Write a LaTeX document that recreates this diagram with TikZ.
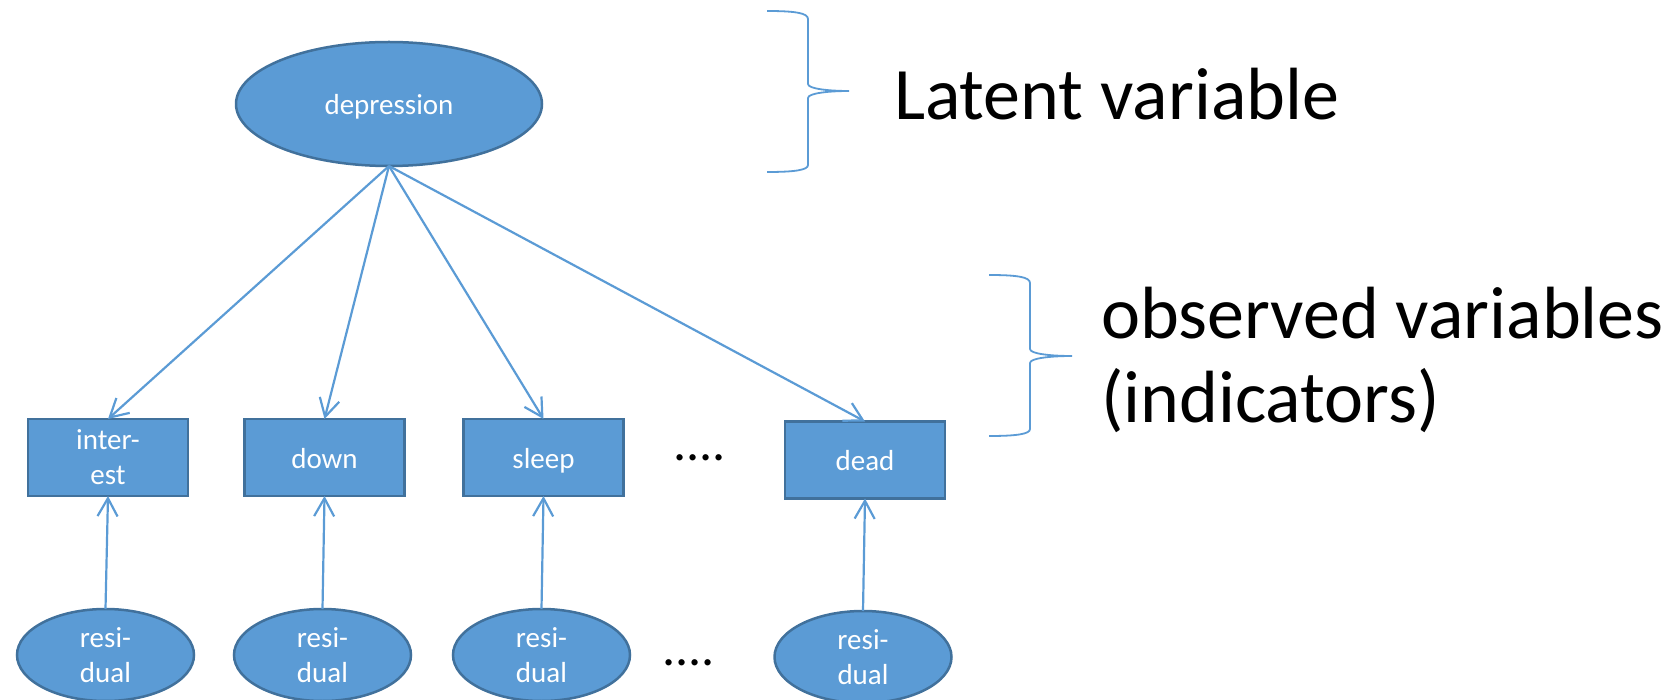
\documentclass[tikz,border=0pt]{standalone}
\usepackage{fontspec}
\setmainfont{Carlito}
\usetikzlibrary{arrows.meta,shapes.geometric}
\definecolor{nodefill}{HTML}{5B9BD5}
\definecolor{nodeline}{HTML}{41719C}
\definecolor{linkblue}{HTML}{5B9BD5}

\begin{document}
\begin{tikzpicture}[x=1pt,y=-1pt,
  every node/.style={inner sep=0pt, outer sep=0pt},
  small/.style={font=\fontsize{29}{35}\selectfont, text=white, align=center},
  oneline/.style={text height=22pt, text depth=1pt},
  latentnode/.style={ellipse, small, fill=nodefill, draw=nodeline, line width=2.5pt,
    minimum width=306pt, minimum height=124pt},
  obsnode/.style={rectangle, small, fill=nodefill, draw=nodeline, line width=2.5pt,
    minimum width=160pt, minimum height=77pt},
  resnode/.style={ellipse, small, fill=nodefill, draw=nodeline, line width=2.5pt,
    minimum width=177pt, minimum height=92pt},
  link/.style={draw=linkblue, line width=2.2pt, -{Straight Barb[length=18pt,width=20pt]}},
  bracepath/.style={draw=linkblue, line width=1.8pt},
  bigtext/.style={font=\fontsize{74}{85}\selectfont, align=left},
  dotstext/.style={font=\fontsize{52}{60}\selectfont}
]
\useasboundingbox (0,0) rectangle (1676,700);

% latent factor
\node[latentnode, oneline] (dep) at (389,104) {depression};

% indicators
\node[obsnode] (interest) at (108,457.5) {inter-\\est};
\node[obsnode, oneline] (down)  at (324.5,457.5) {down};
\node[obsnode, oneline] (sleep) at (543.5,457.5) {sleep};
\node[obsnode, oneline] (dead)  at (865,460) {dead};
\node[dotstext, anchor=base] (dotsA) at (699.5,460) {....};

% residual terms
\node[resnode] (r1) at (105.5,655) {resi-\\dual};
\node[resnode] (r2) at (322.5,655) {resi-\\dual};
\node[resnode] (r3) at (541.5,655) {resi-\\dual};
\node[resnode] (r4) at (863,657) {resi-\\dual};
\node[dotstext, anchor=base] (dotsB) at (688.5,665) {....};

% loadings
\foreach \t in {interest,down,sleep,dead}
  \draw[link] (dep.south) -- (\t.north);

% residual paths
\draw[link] (r1.north) -- (interest.south);
\draw[link] (r2.north) -- (down.south);
\draw[link] (r3.north) -- (sleep.south);
\draw[link] (r4.north) -- (dead.south);

% braces and their labels
\draw[bracepath] (767,11) .. controls (795,11) and (808,13) .. (808,19)
  -- (808,84) .. controls (808,89) and (830,91) .. (849,91)
  .. controls (830,91) and (808,93) .. (808,98)
  -- (808,165) .. controls (808,170) and (795,172) .. (767,172);
\draw[bracepath] (989,275) .. controls (1017,275) and (1030,277) .. (1030,283)
  -- (1030,349) .. controls (1030,354) and (1052,356) .. (1072,356)
  .. controls (1052,356) and (1030,358) .. (1030,363)
  -- (1030,429) .. controls (1030,434) and (1017,436) .. (989,436);

\node[bigtext, anchor=base west] (latentlabel) at (894,120) {Latent variable};
% the base anchor of a two-line node sits on its last line
\node[bigtext, anchor=base west] (observedlabel) at (1101,423) {observed variables\\(indicators)};
\end{tikzpicture}
\end{document}
